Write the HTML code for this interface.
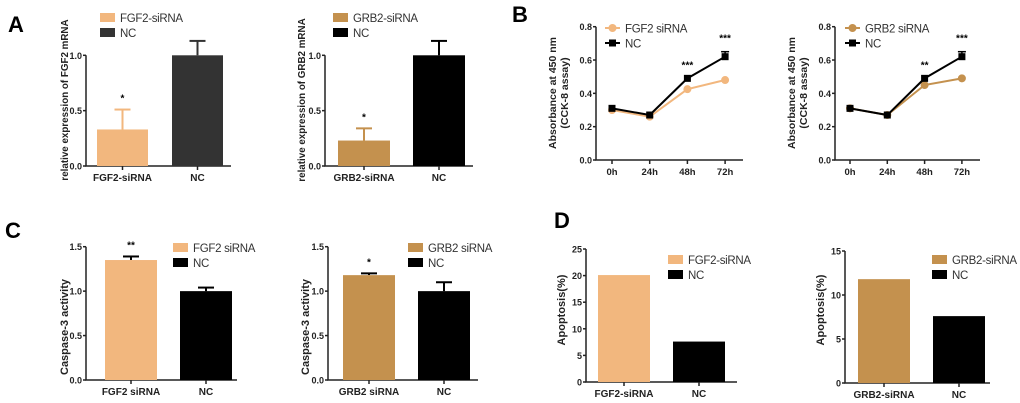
<!DOCTYPE html>
<html><head><meta charset="utf-8"><style>
body{margin:0;background:#fff;width:1020px;height:403px;overflow:hidden}
svg{display:block;font-family:"Liberation Sans",sans-serif}
</style></head><body>
<svg id="fig" width="1020" height="403">
<text x="8" y="32" font-size="22" font-weight="bold">A</text>
<text x="512" y="22" font-size="22" font-weight="bold">B</text>
<text x="5" y="238" font-size="22" font-weight="bold">C</text>
<text x="554" y="228" font-size="22" font-weight="bold">D</text>
</svg>
<script>
// Panel A
const a1Cats=["FGF2-siRNA","NC"]; const a1Vals=[0.33,1.0]; const a1Errs=[0.51,1.13];
const a2Cats=["GRB2-siRNA","NC"]; const a2Vals=[0.23,1.0]; const a2Errs=[0.34,1.13];
const aTicks=[0.0,0.5,1.0];
// Panel B
const bTimes=["0h","24h","48h","72h"];
const b1Si=[0.30,0.26,0.425,0.48]; const b1Nc=[0.31,0.27,0.49,0.62]; const b1NcErr=[0.31,0.27,0.49,0.65];
const b2Si=[0.31,0.27,0.45,0.49]; const b2Nc=[0.31,0.27,0.49,0.62]; const b2NcErr=[0.31,0.27,0.49,0.65];
const b1Stars=["","","***","***"]; const b2Stars=["","","**","***"];
const bTicks=[0.0,0.2,0.4,0.6,0.8];
// Panel C
const c1Cats=["FGF2 siRNA","NC"]; const c1Vals=[1.35,1.0]; const c1Errs=[1.39,1.04];
const c2Cats=["GRB2 siRNA","NC"]; const c2Vals=[1.18,1.0]; const c2Errs=[1.20,1.10];
const cTicks=[0.0,0.5,1.0,1.5];
// Panel D
const d1Cats=["FGF2-siRNA","NC"]; const d1Vals=[20.1,7.6];
const d2Cats=["GRB2-siRNA","NC"]; const d2Vals=[11.8,7.6];
const d1Ticks=[0,5,10,15,20,25]; const d2Ticks=[0,5,10,15];

const svg=document.getElementById('fig');
const NS="http://www.w3.org/2000/svg";
function mk(tag,attrs,parent){const e=document.createElementNS(NS,tag);for(const k in attrs)e.setAttribute(k,attrs[k]);(parent||svg).appendChild(e);return e;}
function txt(s,attrs,parent){const e=mk('text',attrs,parent);e.textContent=s;return e;}
const LEG={'font-size':11.5,fill:'#333','letter-spacing':'-0.3'};

function barChart(o){
  const g=mk('g',{});
  
  
  const y=v=>o.y0-(v-o.vmin)/(o.vmax-o.vmin)*(o.y0-o.ytop);
  const ax=mk('path',{d:`M${o.ax},${o.ytop}V${o.y0}H${o.axEnd}`,stroke:'#222','stroke-width':1.5,fill:'none'},g);
  
  
  o.ticks.forEach(t=>{
    mk('line',{x1:o.ax-3,x2:o.ax,y1:y(t),y2:y(t),stroke:'#222','stroke-width':1.5},g);
    const l=txt(o.fmt(t),{x:o.ax-4,y:y(t)+3.5,'font-size':9,'font-weight':'bold','text-anchor':'end',fill:'#222'},g);
    
    
  });
  o.cats.forEach((c,i)=>{
    const x=o.bx[i], w=o.bw, v=o.vals[i];
    if(o.errs){
      const ey=y(o.errs[i]);
      mk('line',{x1:x+w/2,x2:x+w/2,y1:y(v),y2:ey,stroke:o.errCol[i],'stroke-width':2},g);
      mk('line',{x1:x+w/2-8,x2:x+w/2+8,y1:ey,y2:ey,stroke:o.errCol[i],'stroke-width':2},g);
    }
    const b=mk('rect',{x:x,y:y(v),width:w,height:o.y0-y(v),fill:o.cols[i]},g);
    
    
    mk('line',{x1:x+w/2,x2:x+w/2,y1:o.y0,y2:o.y0+4,stroke:'#222','stroke-width':1.5},g);
    const l=txt(c,{x:x+w/2,y:o.y0+15,'font-size':10,'font-weight':'bold','text-anchor':'middle',fill:'#222'},g);
    
    
    if(o.stars&&o.stars[i]){txt(o.stars[i],{x:x+w/2,y:y(o.errs[i])-8,'font-size':10,'font-weight':'bold','text-anchor':'middle'},g);}
  });
  const t=txt(o.title,{transform:`translate(${o.tx},${o.tcy}) rotate(-90)`,'font-size':o.tfs||11,'font-weight':'bold','text-anchor':'middle',fill:'#222'},g);
  
  
  o.cats.forEach((c,i)=>{
    const yy=o.ly+i*15;
    const s=mk('rect',{x:o.lx,y:yy,width:15,height:9,fill:o.cols[i]},g);
    
    
    const l=txt(o.legend[i],Object.assign({x:o.lx+20,y:yy+9},LEG),g);
    
    
  });
}
const f1=v=>v.toFixed(1), f0=v=>String(v);
const OR='#f2b77e', BR='#c4914e';
barChart({name:'chart-a1',cats:a1Cats,vals:a1Vals,errs:a1Errs,stars:['*',''],ticks:aTicks,fmt:f1,vmin:0,vmax:1,y0:166,ytop:55.3,ax:86,axEnd:231,bx:[97,172],bw:51,cols:[OR,'#333'],errCol:[OR,'#333'],title:'relative expression of FGF2 mRNA',tfs:9.8,tx:68,tcy:100,lx:100,ly:13,legend:['FGF2-siRNA','NC']});
barChart({name:'chart-a2',cats:a2Cats,vals:a2Vals,errs:a2Errs,stars:['*',''],ticks:aTicks,fmt:f1,vmin:0,vmax:1,y0:166,ytop:55.3,ax:325,axEnd:473,bx:[338,413],bw:52,cols:[BR,'#000'],errCol:[BR,'#000'],title:'relative expression of GRB2 mRNA',tfs:9.8,tx:305,tcy:100,lx:333,ly:13,legend:['GRB2-siRNA','NC']});
barChart({name:'chart-c1',cats:c1Cats,vals:c1Vals,errs:c1Errs,stars:['**',''],ticks:cTicks,fmt:f1,vmin:0,vmax:1.5,y0:380,ytop:246.7,ax:86,axEnd:237,bx:[105,180],bw:52,cols:[OR,'#000'],errCol:['#000','#000'],title:'Caspase-3 activity',tx:68,tcy:327,lx:173,ly:243,legend:['FGF2 siRNA','NC']});
barChart({name:'chart-c2',cats:c2Cats,vals:c2Vals,errs:c2Errs,stars:['*',''],ticks:cTicks,fmt:f1,vmin:0,vmax:1.5,y0:380,ytop:246.7,ax:328,axEnd:478,bx:[343,418],bw:52,cols:[BR,'#000'],errCol:['#000','#000'],title:'Caspase-3 activity',tx:309,tcy:327,lx:408,ly:243,legend:['GRB2 siRNA','NC']});
barChart({name:'chart-d1',cats:d1Cats,vals:d1Vals,ticks:d1Ticks,fmt:f0,vmin:0,vmax:25,y0:382,ytop:249,ax:586,axEnd:737,bx:[598,673],bw:52,cols:[OR,'#000'],title:'Apoptosis(%)',tx:565,tcy:310,lx:668,ly:255,legend:['FGF2-siRNA','NC']});
barChart({name:'chart-d2',cats:d2Cats,vals:d2Vals,ticks:d2Ticks,fmt:f0,vmin:0,vmax:15,y0:383,ytop:251,ax:845,axEnd:990,bx:[858,933],bw:52,cols:[BR,'#000'],title:'Apoptosis(%)',tx:824,tcy:310,lx:932,ly:255,legend:['GRB2-siRNA','NC']});

function lineChart(o){
  const g=mk('g',{});
  
  
  const y=v=>o.y0-v/0.8*(o.y0-o.ytop);
  const x=i=>o.xs0+i*o.dx;
  const ax=mk('path',{d:`M${o.ax},${o.ytop}V${o.y0}H${o.axEnd}`,stroke:'#222','stroke-width':1.5,fill:'none'},g);
  
  
  bTicks.forEach(t=>{
    mk('line',{x1:o.ax-3,x2:o.ax,y1:y(t),y2:y(t),stroke:'#222','stroke-width':1.5},g);
    const l=txt(t.toFixed(1),{x:o.ax-4,y:y(t)+3.5,'font-size':9,'font-weight':'bold','text-anchor':'end',fill:'#222'},g);
    
    
  });
  bTimes.forEach((c,i)=>{
    mk('line',{x1:x(i),x2:x(i),y1:o.y0,y2:o.y0+4,stroke:'#222','stroke-width':1.5},g);
    const l=txt(c,{x:x(i),y:o.y0+15,'font-size':9.5,'font-weight':'bold','text-anchor':'middle',fill:'#222'},g);
    
    
    if(o.stars[i]) txt(o.stars[i],{x:x(i),y:y(o.ncErr[i])-10,'font-size':10,'font-weight':'bold','text-anchor':'middle'},g);
  });
  const si=mk('polyline',{points:o.si.map((v,i)=>x(i)+','+y(v)).join(' '),fill:'none',stroke:o.col,'stroke-width':2},g);
  
  
  o.si.forEach((v,i)=>{const c=mk('circle',{cx:x(i),cy:y(v),r:4,fill:o.col},g);
    
    });
  const nc=mk('polyline',{points:o.nc.map((v,i)=>x(i)+','+y(v)).join(' '),fill:'none',stroke:'#000','stroke-width':2},g);
  
  
  o.nc.forEach((v,i)=>{
    if(o.ncErr[i]>v){mk('line',{x1:x(i),x2:x(i),y1:y(v),y2:y(o.ncErr[i]),stroke:'#000','stroke-width':1.5},g);
      mk('line',{x1:x(i)-4,x2:x(i)+4,y1:y(o.ncErr[i]),y2:y(o.ncErr[i]),stroke:'#000','stroke-width':1.5},g);}
    const r=mk('rect',{x:x(i)-3.5,y:y(v)-3.5,width:7,height:7,fill:'#000'},g);
    
    
  });
  const t1=txt('Absorbance at 450 nm',{transform:`translate(${o.tx},${o.tcy}) rotate(-90)`,'font-size':10.5,'font-weight':'bold','text-anchor':'middle',fill:'#222'},g);
  
  
  txt('(CCK-8 assay)',{transform:`translate(${o.tx+12},${o.tcy}) rotate(-90)`,'font-size':10.5,'font-weight':'bold','text-anchor':'middle',fill:'#222'},g);
  [[o.col,o.lab,'c'],['#000','NC','s']].forEach((e,i)=>{
    const yy=o.ly+i*15;
    mk('line',{x1:o.lx,x2:o.lx+15,y1:yy,y2:yy,stroke:e[0],'stroke-width':2},g);
    if(e[2]=='c') mk('circle',{cx:o.lx+7.5,cy:yy,r:4,fill:e[0]},g);
    else mk('rect',{x:o.lx+4,y:yy-3.5,width:7,height:7,fill:e[0]},g);
    const l=txt(e[1],Object.assign({x:o.lx+20,y:yy+4.5},LEG),g);
    
    
  });
}
lineChart({name:'chart-b1',si:b1Si,nc:b1Nc,ncErr:b1NcErr,stars:b1Stars,col:OR,lab:'FGF2 siRNA',y0:160,ytop:26.7,ax:596,axEnd:743,xs0:612,dx:37.7,tx:556,tcy:93,lx:605,ly:28});
lineChart({name:'chart-b2',si:b2Si,nc:b2Nc,ncErr:b2NcErr,stars:b2Stars,col:BR,lab:'GRB2 siRNA',y0:160,ytop:26.7,ax:835,axEnd:980,xs0:850,dx:37.3,tx:795,tcy:93,lx:845,ly:28});
</script>
</body></html>
